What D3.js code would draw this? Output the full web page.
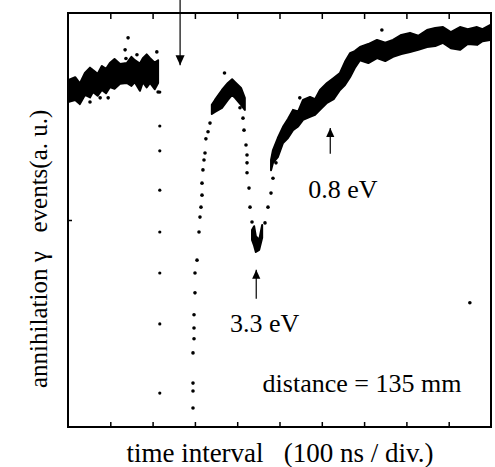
<!DOCTYPE html>
<html>
<head>
<meta charset="utf-8">
<script src="https://cdn.jsdelivr.net/npm/d3@7"></script>
<style>
  body { margin: 0; background: #fff; }
  text { font-family: "Liberation Serif", "DejaVu Serif", serif; fill: #000; }
</style>
</head>
<body>
<div id="chart"></div>
<script>

// x in divisions (100 ns / div), y in arbitrary units

// dense band before the gap: [x, upper, lower]
const bandLeft = [
    [0.00, 83.8, 78.5], [0.17, 84.5, 79.0], [0.28, 83.0, 78.0], [0.40, 85.5, 80.2],
    [0.52, 86.8, 79.6], [0.59, 86.2, 80.9], [0.70, 85.3, 80.0], [0.80, 87.2, 81.4],
    [0.90, 86.5, 80.6], [0.99, 87.9, 82.1], [1.10, 88.9, 81.7], [1.23, 87.7, 82.9],
    [1.39, 87.9, 83.1], [1.50, 89.4, 82.4], [1.58, 88.6, 83.3], [1.70, 87.8, 81.2],
    [1.77, 89.1, 83.3], [1.86, 90.0, 82.0], [1.94, 89.1, 83.1], [2.05, 88.0, 81.6],
    [2.13, 88.6, 83.1]
];

// peak blob and minimum blob
const bandPeak = [
    [3.40, 77.8, 75.6], [3.475, 79.0, 76.1], [3.64, 81.4, 77.1], [3.78, 83.1, 79.0],
    [3.88, 84.0, 80.2], [3.95, 83.3, 79.5], [4.09, 81.9, 77.8], [4.18, 79.5, 76.6]
];

const bandMin = [
    [4.35, 47.6, 45.2], [4.40, 48.5, 43.8], [4.44, 46.1, 42.3], [4.52, 45.2, 42.8],
    [4.59, 48.8, 45.7]
];

// dense band after the dip
const bandRight = [
    [4.80, 64.5, 62.0], [4.846, 66.9, 63.8], [4.96, 69.8, 65.2], [5.083, 72.5, 68.6],
    [5.20, 74.4, 69.8], [5.319, 76.6, 71.7], [5.44, 76.2, 72.6], [5.556, 79.0, 74.2],
    [5.721, 79.7, 74.9], [5.84, 79.2, 75.4], [5.957, 81.4, 76.6], [6.123, 83.1, 78.3],
    [6.28, 84.3, 79.2], [6.43, 85.5, 81.4], [6.548, 88.2, 82.6], [6.667, 90.3, 84.5],
    [6.78, 90.8, 86.7], [6.903, 91.8, 88.6], [7.10, 92.5, 87.9], [7.305, 93.5, 89.1],
    [7.50, 92.8, 88.4], [7.683, 93.5, 89.4], [7.88, 94.7, 90.1], [8.085, 95.2, 90.6],
    [8.28, 94.5, 91.1], [8.487, 95.9, 91.8], [8.68, 96.4, 92.0], [8.865, 96.6, 92.8],
    [9.05, 95.4, 91.5], [9.267, 96.6, 91.1], [9.45, 96.1, 92.5], [9.669, 96.6, 92.3],
    [9.80, 96.1, 93.2], [9.976, 97.1, 93.5]
];

// single counts in the sparse parts: [x, y]
const rising = [
    [2.955, 4.6], [2.955, 8.7], [2.955, 10.6], [2.955, 17.9], [2.979, 21.3], [2.979, 23.9],
    [2.979, 27.1], [3.002, 32.4], [3.002, 37.2], [3.05, 40.3], [3.097, 47.1], [3.12, 50.7],
    [3.144, 53.1], [3.168, 56.0], [3.168, 58.9], [3.19, 62.1], [3.215, 64.5], [3.239, 66.2],
    [3.26, 69.6], [3.31, 71.3], [3.357, 73.4], [3.428, 76.6], [3.52, 77.1]
];

const falling = [
    [4.019, 79.7], [4.066, 77.1], [4.137, 74.6], [4.161, 71.7], [4.208, 68.1], [4.232, 65.7],
    [4.232, 63.8], [4.232, 61.4], [4.279, 57.7], [4.303, 53.1], [4.35, 49.5], [4.421, 45.2]
];

const recovering = [
    [4.657, 49.3], [4.728, 53.1], [4.799, 56.5], [4.846, 60.1], [4.917, 63.8], [4.965, 66.9]
];

const strays = [
    [1.42, 94.0], [1.35, 91.1], [1.37, 89.0], [1.63, 89.9], [2.10, 90.6], [2.13, 80.9],
    [0.76, 79.5], [0.95, 79.5], [0.52, 78.5], [7.42, 95.9], [5.48, 79.5], [8.37, 91.8],
    [9.50, 30.0], [3.70, 85.5]
];

// the row of dots that marks the start
const marker = [80.9, 72.7, 66.7, 57.2, 47.1, 37.2, 24.9, 8.2];
const markerX = 2.17;

const xTicks = d3.range(1, 10);

const margin = {top: 13, right: 4, bottom: 40, left: 68};
const width = 495 - margin.left - margin.right;
const height = 467 - margin.top - margin.bottom;

const svg = d3.select("#chart").append("svg")
    .attr("width", 495)
    .attr("height", 467);

const g = svg.append("g")
    .attr("transform", `translate(${margin.left},${margin.top})`);

const x = d3.scaleLinear().domain([0, 10]).range([0, width]);
const y = d3.scaleLinear().domain([0, 100]).range([height, 0]);

// bands
const area = d3.area()
    .x(d => x(d[0]))
    .y0(d => y(d[2]))
    .y1(d => y(d[1]));

[bandLeft, bandPeak, bandMin, bandRight].forEach(b => {
    g.append("path")
        .datum(b)
        .attr("d", area)
        .attr("fill", "#000")
        .attr("stroke", "#000")
        .attr("stroke-width", 2)
        .attr("stroke-linejoin", "round");
});

// single dots
g.selectAll(".pt")
    .data([].concat(rising, falling, recovering, strays))
    .enter().append("circle")
    .attr("class", "pt")
    .attr("cx", d => x(d[0]))
    .attr("cy", d => y(d[1]))
    .attr("r", 1.8)
    .attr("fill", "#000");

g.selectAll(".mk")
    .data(marker)
    .enter().append("circle")
    .attr("class", "mk")
    .attr("cx", x(markerX))
    .attr("cy", d => y(d))
    .attr("r", 1.6)
    .attr("fill", "#000");

// frame and ticks
g.append("rect")
    .attr("width", width)
    .attr("height", height)
    .attr("fill", "none")
    .attr("stroke", "#000")
    .attr("stroke-width", 2);

const tickAttrs = sel => {
    sel.select(".domain").remove();
    sel.selectAll("text").remove();
    sel.selectAll("line").attr("stroke", "#000").attr("stroke-width", 1.5);
};

g.append("g")
    .attr("transform", `translate(0,${height})`)
    .call(d3.axisBottom(x).tickValues(xTicks).tickSize(-5))
    .call(tickAttrs);

g.append("g")
    .call(d3.axisTop(x).tickValues(xTicks).tickSize(-6))
    .call(tickAttrs);

g.append("g")
    .call(d3.axisLeft(y).tickValues([50]).tickSize(-4))
    .call(tickAttrs);

// arrows
const arrow = (x0, y0, x1, y1, head) => {
    g.append("line")
        .attr("x1", x0).attr("y1", y0)
        .attr("x2", x1).attr("y2", y1)
        .attr("stroke", "#000")
        .attr("stroke-width", 1.2);
    const dir = y1 > y0 ? 1 : -1;
    g.append("path")
        .attr("d", `M${x1},${y1} L${x1 - head / 2.2},${y1 - dir * head} L${x1 + head / 2.2},${y1 - dir * head} Z`)
        .attr("fill", "#000");
};

arrow(x(2.65), -margin.top, x(2.65), y(87.4), 10);
arrow(x(4.45), y(31), x(4.45), y(38), 9);
arrow(x(6.2), y(66), x(6.2), y(72.2), 9);

// labels
g.append("text")
    .attr("x", x(6.2) - 22)
    .attr("y", y(55.3))
    .attr("font-size", 26)
    .text("0.8 eV");

g.append("text")
    .attr("x", x(3.83))
    .attr("y", y(23))
    .attr("font-size", 26)
    .text("3.3 eV");

g.append("text")
    .attr("x", x(4.6))
    .attr("y", y(8.5))
    .attr("font-size", 26)
    .text("distance = 135 mm");

svg.append("text")
    .attr("x", 280)
    .attr("y", 462)
    .attr("text-anchor", "middle")
    .attr("font-size", 27)
    .attr("xml:space", "preserve")
    .text("time interval   (100 ns / div.)");

svg.append("text")
    .attr("transform", "translate(47,388) rotate(-90)")
    .attr("font-size", 25)
    .attr("xml:space", "preserve")
    .text("annihilation γ   events(a. u.)");

</script>
</body>
</html>
